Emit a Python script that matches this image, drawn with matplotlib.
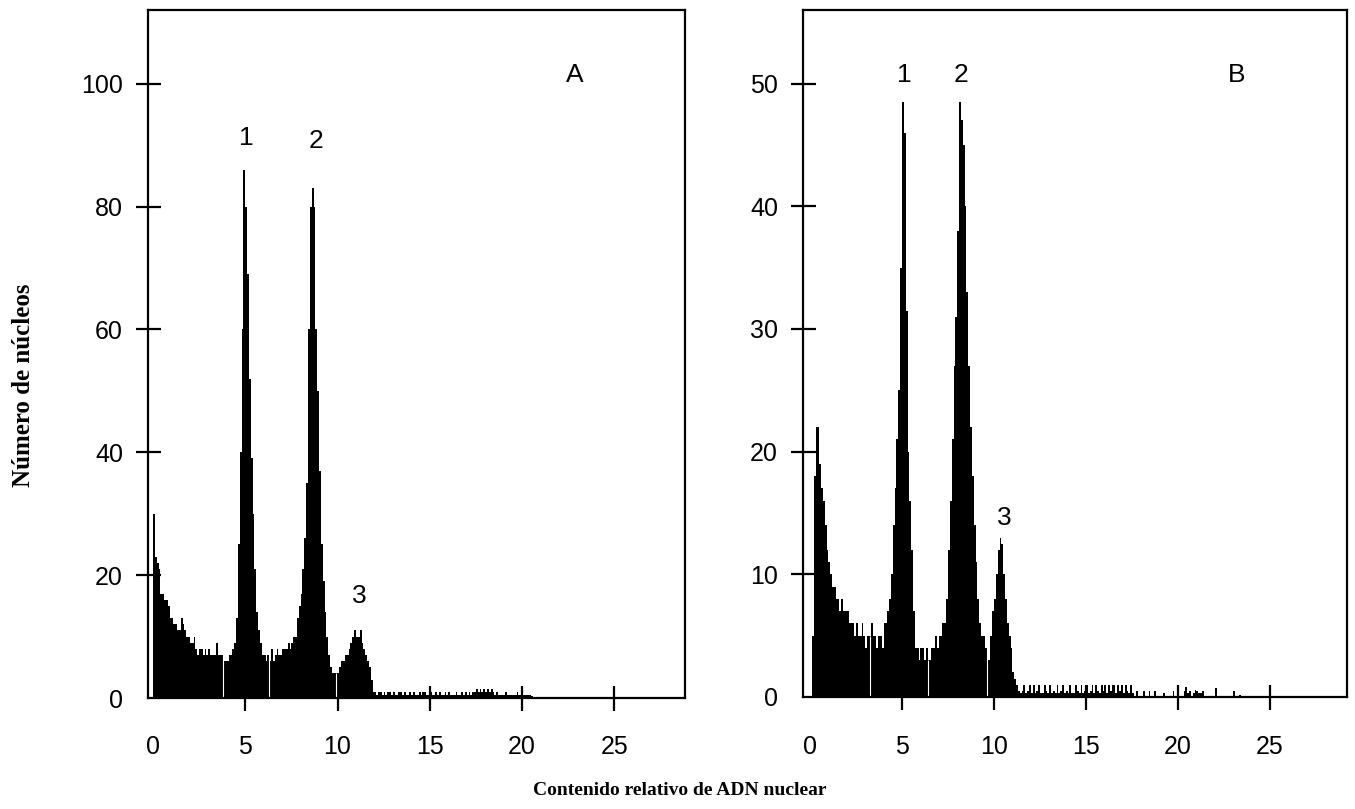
import numpy as np
import matplotlib.pyplot as plt

plt.rcParams['font.family'] = ['Liberation Sans', 'DejaVu Sans']

bin_width = 0.1

# panel A counts, bins from 0.0 in steps of 0.1 (one row per unit)
counts_a = [
    30, 23, 22, 21, 17, 17, 16, 16, 15, 13,
    13, 12, 12, 11, 11, 13, 12, 11, 10, 10,
    9, 9, 10, 8, 7, 8, 8, 7, 8, 7,
    8, 7, 7, 7, 9, 7, 7, 7, 6, 6,
    6, 7, 7, 8, 9, 13, 25, 40, 60, 86,
    80, 69, 52, 39, 30, 21, 14, 11, 9, 7,
    7, 6, 7, 6, 8, 6, 7, 8, 7, 7,
    8, 8, 8, 9, 8, 9, 10, 10, 13, 15,
    17, 21, 26, 35, 60, 80, 83, 80, 60, 50,
    37, 25, 19, 14, 10, 7, 5, 4, 4, 4,
    4, 5, 6, 6, 7, 7, 8, 9, 10, 11,
    10, 10, 11, 9, 8, 7, 6, 5, 3, 1,
    1, 0.5, 1, 1, 0.5, 1, 0.5, 1, 1, 0.5,
    1, 0.5, 0.5, 1, 1, 0.5, 1, 0.5, 0.5, 1,
    0.5, 1, 0.5, 0.5, 1, 0.5, 1, 1, 0.5, 0.5,
    1, 0.5, 0.5, 1, 0.5, 1, 0.5, 0.5, 1, 0.5,
    1, 0.5, 0.5, 0.5, 1, 0.5, 0.5, 1, 0.5, 1,
    0.5, 1, 0.5, 1, 1, 1.5, 1, 1.5, 1, 1.5,
    1, 1.5, 1, 1.5, 1, 0.5, 1, 0.5, 0.5, 0.5,
    0.5, 1, 0.5, 0.5, 0.5, 0.5, 0.5, 1, 0.5, 0.5,
    0.5, 0.5, 0.5, 0.5, 0.5, 0.3,
]

# panel B counts, same binning
counts_b = [
    0, 5, 18, 22, 22, 19, 17, 16, 14, 12,
    11, 10, 9, 9, 8, 8, 7, 8, 7, 7,
    7, 6, 6, 6, 5, 6, 5, 5, 6, 5,
    4, 5, 5, 6, 5, 5, 4, 5, 5, 4,
    6, 6, 7, 8, 10, 14, 17, 21, 25, 35,
    48.5, 46, 31.5, 20, 16, 12, 7, 4, 4, 3,
    4, 4, 3, 4, 3, 3, 4, 4, 5, 4,
    5, 5, 6, 6, 8, 12, 16, 21, 27, 31,
    38, 48.5, 47, 45, 40, 33, 27, 22, 18, 14,
    11, 8, 6, 5, 5, 4, 3, 3, 5, 7,
    8, 10, 12, 13, 12.5, 10, 8, 6, 5, 4,
    2, 1.5, 1, 0.5, 0.3, 0.5, 1, 0.3, 0.5, 1,
    0.3, 1, 0.3, 0.5, 1, 0.3, 0.3, 1, 0.5, 0.3,
    1, 0.3, 0.5, 0.3, 1, 0.3, 0.5, 1, 0.3, 0.5,
    0.3, 1, 0.3, 0.3, 1, 0.5, 0.3, 1, 0.3, 0.5,
    1, 0.3, 0.5, 1, 0.3, 1, 0.5, 0.3, 1, 0.5,
    1, 0.3, 1, 0.5, 1, 1, 0.3, 1, 0.5, 1,
    0.3, 1, 0.5, 0.3, 1, 0.3, 0, 0.5, 0, 0,
    0, 0.5, 0, 0, 0.5, 0, 0, 0.5, 0, 0,
    0, 0, 0.3, 0, 0, 0, 0, 0.5, 0, 0,
    0, 0, 0, 0.5, 0.8, 0.3, 0.5, 0, 0.3, 0.6,
    0.5, 0.3, 0.3, 0.5, 0, 0, 0, 0, 0, 0,
    0.7, 0, 0, 0, 0, 0, 0, 0, 0, 0,
    0.5, 0, 0, 0.2, 0, 0, 0, 0, 0, 0,
]

# thin white seams visible inside the black histograms
seams_a = [3.8, 6.3, 9.9]
seams_b = [3.25, 6.4, 9.6]

xticks = [0, 5, 10, 15, 20, 25]
yticks_a = [0, 20, 40, 60, 80, 100]
yticks_b = [0, 10, 20, 30, 40, 50]

peaks_a = {'1': (5.04, 91.2), '2': (8.83, 90.7), '3': (11.17, 16.6)}
peaks_b = {'1': (5.1, 50.7), '2': (8.2, 50.7), '3': (10.54, 14.6)}


def draw_hist(ax, counts, seams):
    counts = np.asarray(counts, dtype=float)
    edges = np.arange(len(counts) + 1) * bin_width
    ax.stairs(counts, edges, fill=True, color='black', linewidth=0)
    idx = (np.array(seams) / bin_width).astype(int)
    ax.vlines(seams, 0, counts[idx], color='white', linewidth=0.8)


def style(ax, yticks):
    ax.set_xticks(xticks)
    ax.set_yticks(yticks)
    for sp in ax.spines.values():
        sp.set_linewidth(1.6)
    ax.tick_params(direction='inout', length=18, width=1.6, labelsize=18)
    ax.tick_params(axis='x', pad=18)
    ax.tick_params(axis='y', pad=9)
    ax.xaxis.get_major_ticks()[0].tick1line.set_visible(False)
    ax.yaxis.get_major_ticks()[0].tick1line.set_visible(False)


fig = plt.figure(figsize=(13.55, 8.09), dpi=100)
ax1 = fig.add_axes([148 / 1355, 1 - 698 / 809, 537 / 1355, 688 / 809])
ax2 = fig.add_axes([803 / 1355, 1 - 697 / 809, 544 / 1355, 687 / 809])

draw_hist(ax1, counts_a, seams_a)
ax1.set_xlim(-0.27, 28.83)
ax1.set_ylim(0, 112)
style(ax1, yticks_a)
ax1.text(22.87, 101.5, 'A', fontsize=19, ha='center', va='center')
for lab, (x, y) in peaks_a.items():
    ax1.text(x, y, lab, fontsize=19, ha='center', va='center')

draw_hist(ax2, counts_b, seams_b)
ax2.set_xlim(-0.38, 29.18)
ax2.set_ylim(0, 56)
style(ax2, yticks_b)
ax2.text(23.2, 50.7, 'B', fontsize=19, ha='center', va='center')
for lab, (x, y) in peaks_b.items():
    ax2.text(x, y, lab, fontsize=19, ha='center', va='center')

fig.text(0.502, 0.023, 'Contenido relativo de ADN nuclear', ha='center', va='center',
         fontsize=14, fontweight='bold', family='Liberation Serif')
fig.text(0.017, 0.524, 'Número de núcleos', ha='center', va='center', rotation=90,
         fontsize=18, fontweight='bold', family='Liberation Serif')

fig.savefig('out.png', dpi=100)
